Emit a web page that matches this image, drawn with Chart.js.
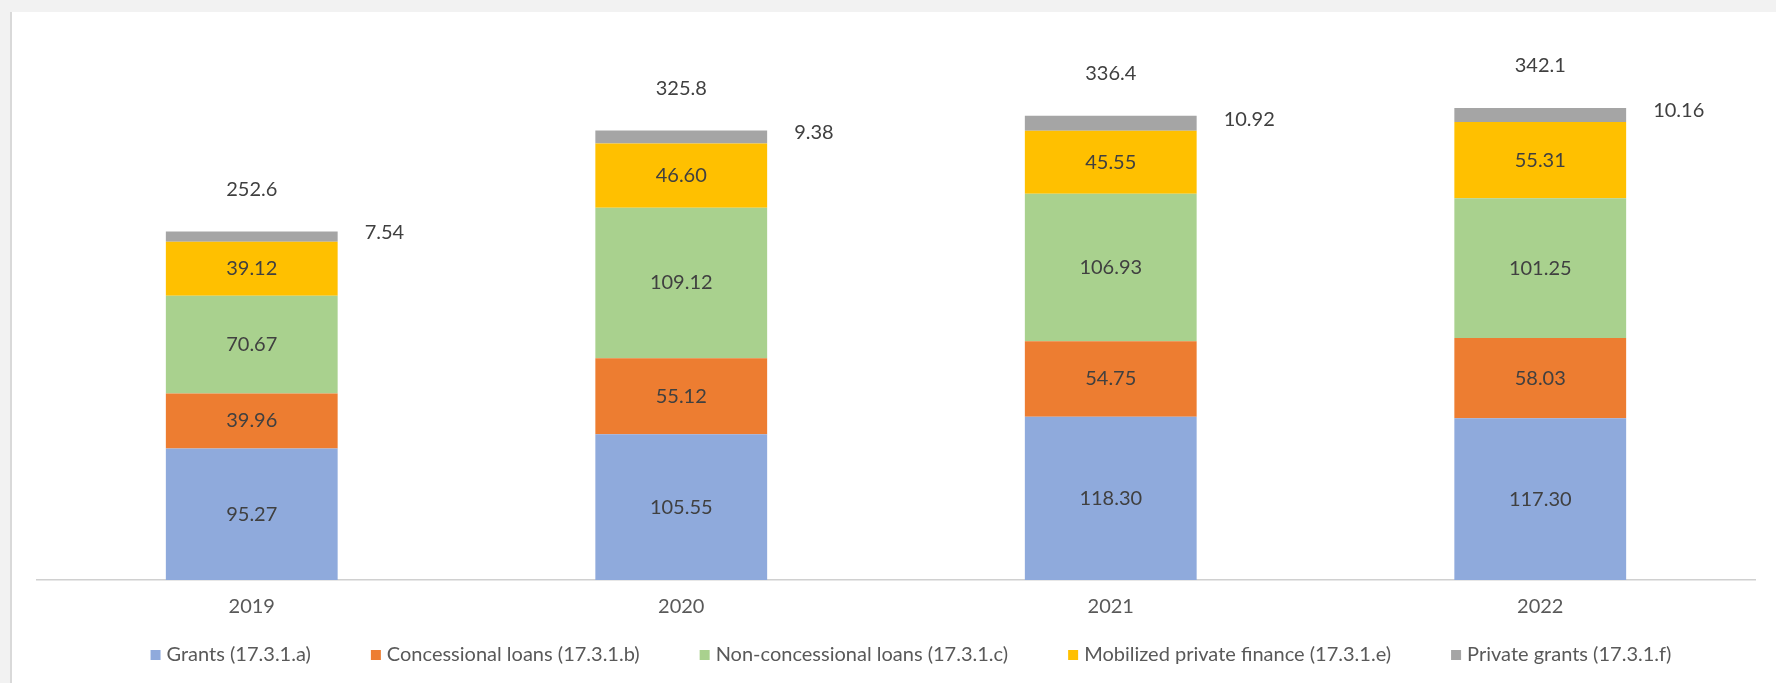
<!DOCTYPE html>
<html>
<head>
<meta charset="utf-8">
<script src="https://cdn.jsdelivr.net/npm/chart.js@4.4.1/dist/chart.umd.min.js"></script>
<style>
    html, body { margin: 0; padding: 0; background: #f2f2f2; }
    #wrap {
        position: absolute; left: 10px; top: 12px;
        width: 1764px; height: 671px;
        border-left: 2px solid #d9d9d9;
        background: #ffffff;
    }
    canvas { display: block; }
</style>
</head>
<body>
<div id="wrap"><canvas id="financeChart" width="1764" height="671"></canvas></div>
<script>
const years = ["2019", "2020", "2021", "2022"];

const grants = [95.27, 105.55, 118.30, 117.30];
const concessionalLoans = [39.96, 55.12, 54.75, 58.03];
const nonConcessionalLoans = [70.67, 109.12, 106.93, 101.25];
const mobilizedFinance = [39.12, 46.60, 45.55, 55.31];
const privateGrants = [7.54, 9.38, 10.92, 10.16];

const totals = [252.6, 325.8, 336.4, 342.1];

const seriesNames = [
    "Grants (17.3.1.a)",
    "Concessional loans (17.3.1.b)",
    "Non-concessional loans (17.3.1.c)",
    "Mobilized private finance (17.3.1.e)",
    "Private grants (17.3.1.f)"
];
const seriesColors = ["#8faadc", "#ed7d31", "#a9d18e", "#ffc000", "#a5a5a5"];
const seriesValues = [grants, concessionalLoans, nonConcessionalLoans, mobilizedFinance, privateGrants];

const FONT = "Lato, 'Liberation Sans', sans-serif";

// numbers inside the bars, private grants beside, totals above
const barLabels = {
    id: "barLabels",
    afterDatasetsDraw(chart) {
        const ctx = chart.ctx;
        ctx.save();
        ctx.font = "20px " + FONT;
        ctx.fillStyle = "#404040";
        ctx.textBaseline = "middle";

        chart.data.datasets.forEach((ds, di) => {
            const meta = chart.getDatasetMeta(di);
            meta.data.forEach((bar, i) => {
                const txt = ds.data[i].toFixed(2);
                const midY = (bar.y + bar.base) / 2;
                if (di === 4) {
                    ctx.textAlign = "left";
                    ctx.fillText(txt, bar.x + bar.width / 2 + 27, midY - 4);
                } else {
                    ctx.textAlign = "center";
                    ctx.fillText(txt, bar.x, midY);
                }
            });
        });

        const topMeta = chart.getDatasetMeta(4);
        ctx.textAlign = "center";
        topMeta.data.forEach((bar, i) => {
            ctx.fillText(totals[i].toFixed(1), bar.x, bar.y - 42);
        });
        ctx.restore();
    }
};

// legend drawn by hand so the item spacing can be wide
const wideLegend = {
    id: "wideLegend",
    afterDraw(chart) {
        const ctx = chart.ctx;
        const boxSize = 10;
        const textGap = 6;
        const itemGap = 60;
        ctx.save();
        ctx.font = "20px " + FONT;
        ctx.textBaseline = "middle";
        ctx.textAlign = "left";

        const widths = seriesNames.map(n => boxSize + textGap + ctx.measureText(n).width);
        const total = widths.reduce((a, b) => a + b, 0) + itemGap * (widths.length - 1);
        const area = chart.chartArea;
        let x = (area.left + area.right) / 2 + 15 - total / 2;
        const y = chart.height - 28;

        seriesNames.forEach((name, i) => {
            ctx.fillStyle = seriesColors[i];
            ctx.fillRect(x, y - boxSize / 2, boxSize, boxSize);
            ctx.fillStyle = "#595959";
            ctx.fillText(name, x + boxSize + textGap, y);
            x += widths[i] + itemGap;
        });
        ctx.restore();
    }
};

new Chart(document.getElementById("financeChart"), {
    type: "bar",
    data: {
        labels: years,
        datasets: seriesNames.map((name, i) => ({
            label: name,
            data: seriesValues[i],
            backgroundColor: seriesColors[i],
            borderWidth: 0,
            categoryPercentage: 1.0,
            barPercentage: 0.4
        }))
    },
    options: {
        responsive: false,
        animation: false,
        layout: {
            padding: { left: 25, right: 21, top: 16, bottom: 49 }
        },
        plugins: {
            legend: { display: false },
            tooltip: { enabled: false }
        },
        scales: {
            x: {
                stacked: true,
                grid: { display: false, drawTicks: false },
                border: { display: true, color: "#d0d0d0", width: 1.5 },
                ticks: {
                    padding: 15,
                    color: "#595959",
                    font: { family: FONT, size: 20 }
                }
            },
            y: {
                stacked: true,
                display: false,
                min: 0,
                max: 400
            }
        }
    },
    plugins: [barLabels, wideLegend]
});
</script>
</body>
</html>
